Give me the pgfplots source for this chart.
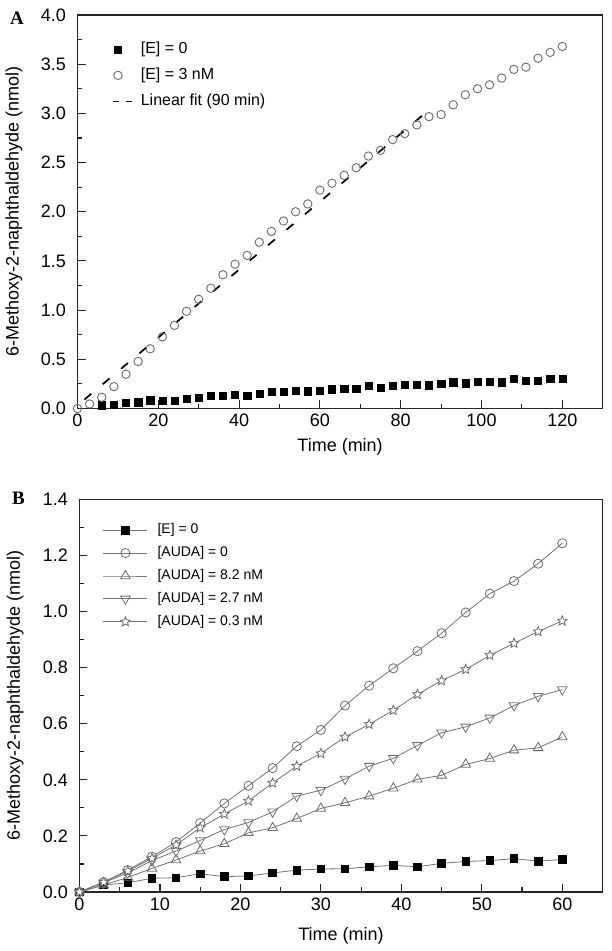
\documentclass[border=0pt]{standalone}
\usepackage{fontspec}
\setmainfont{Liberation Sans}
\newfontfamily\panelfont{Liberation Serif}
\usepackage{pgfplots}
\pgfplotsset{compat=1.18}

\pgfdeclareplotmark{ostar}{%
  \pgfpathmoveto{\pgfpointpolar{90}{\pgfplotmarksize}}%
  \pgfpathlineto{\pgfpointpolar{126}{0.45\pgfplotmarksize}}%
  \pgfpathlineto{\pgfpointpolar{162}{\pgfplotmarksize}}%
  \pgfpathlineto{\pgfpointpolar{198}{0.45\pgfplotmarksize}}%
  \pgfpathlineto{\pgfpointpolar{234}{\pgfplotmarksize}}%
  \pgfpathlineto{\pgfpointpolar{270}{0.45\pgfplotmarksize}}%
  \pgfpathlineto{\pgfpointpolar{306}{\pgfplotmarksize}}%
  \pgfpathlineto{\pgfpointpolar{342}{0.45\pgfplotmarksize}}%
  \pgfpathlineto{\pgfpointpolar{18}{\pgfplotmarksize}}%
  \pgfpathlineto{\pgfpointpolar{54}{0.45\pgfplotmarksize}}%
  \pgfpathclose
  \pgfusepathqfillstroke
}

\pgfplotstableread{
x y
0 0
3 0.046
6 0.114
9 0.222
12 0.349
15 0.478
18 0.607
21 0.727
24 0.845
27 0.988
30 1.110
33 1.222
36 1.359
39 1.467
42 1.556
45 1.690
48 1.800
51 1.906
54 2.000
57 2.080
60 2.220
63 2.290
66 2.370
69 2.447
72 2.566
75 2.624
78 2.733
81 2.794
84 2.883
87 2.967
90 2.988
93 3.087
96 3.189
99 3.250
102 3.290
105 3.359
108 3.447
111 3.470
114 3.560
117 3.620
120 3.680
}\AthreeE

\pgfplotstableread{
x y
6 0.033
9 0.041
12 0.061
15 0.063
18 0.085
21 0.082
24 0.078
27 0.097
30 0.108
33 0.128
36 0.130
39 0.141
42 0.134
45 0.153
48 0.168
51 0.168
54 0.179
57 0.175
60 0.179
63 0.196
66 0.202
69 0.199
72 0.230
75 0.209
78 0.233
81 0.243
84 0.243
87 0.237
90 0.250
93 0.267
96 0.257
99 0.273
102 0.273
105 0.267
108 0.301
111 0.284
114 0.284
117 0.301
120 0.301
}\AzeroE

\pgfplotstableread{
x e0 a0 a82 a27 a03
0 0 0 0 0 0
3 0.025 0.035 0.025 0.033 0.035
6 0.033 0.078 0.052 0.068 0.075
9 0.049 0.126 0.084 0.112 0.120
12 0.051 0.178 0.114 0.146 0.168
15 0.065 0.246 0.146 0.184 0.229
18 0.055 0.316 0.172 0.223 0.278
21 0.057 0.379 0.211 0.248 0.325
24 0.068 0.442 0.229 0.286 0.389
27 0.078 0.520 0.262 0.342 0.449
30 0.082 0.578 0.298 0.363 0.494
33 0.083 0.665 0.318 0.403 0.553
36 0.090 0.736 0.342 0.449 0.598
39 0.095 0.798 0.370 0.477 0.648
42 0.090 0.859 0.402 0.523 0.705
45 0.102 0.923 0.416 0.568 0.754
48 0.109 0.997 0.455 0.589 0.794
51 0.112 1.064 0.476 0.621 0.844
54 0.119 1.109 0.506 0.665 0.887
57 0.110 1.171 0.514 0.698 0.929
60 0.116 1.244 0.553 0.722 0.967
}\Bdata

\definecolor{framec}{gray}{0.15}
\definecolor{markc}{gray}{0.42}
\definecolor{linec}{gray}{0.45}

\pgfplotsset{
  myaxis/.style={
    scale only axis,
    axis line style={line width=1.3bp, framec},
    every tick/.style={line width=1.1bp, framec},
    major tick length=8bp, minor tick length=4.5bp,
    tick align=inside,
    xtick pos=left, ytick pos=left,
    minor x tick num=1, minor y tick num=1,
    tick label style={font=\fontsize{18bp}{21bp}\selectfont},
    /pgf/number format/assume math mode=true,
    yticklabel style={xshift=-8bp, /pgf/number format/fixed, /pgf/number format/fixed zerofill, /pgf/number format/precision=1},
    xticklabel style={yshift=-2bp},
    ylabel={6-Methoxy-2-naphthaldehyde (nmol)},
    xlabel={Time (min)},
    legend cell align=left,
  },
  dashlegend/.style={legend image code/.code={\path[draw=none,fill=none] (0bp,-5bp) rectangle (23.5bp,5bp);
    \draw[##1, dash pattern=on 6bp off 7bp] (4.5bp,0bp) -- (23.5bp,0bp);}},
  marklegendA/.style={legend image code/.code={\path[draw=none,fill=none] (0bp,-5bp) rectangle (23.5bp,5bp);
    \draw[mark repeat=2,mark phase=2,##1] plot coordinates {(0bp,0bp)(9.5bp,0bp)(19bp,0bp)};}},
  marklegendB/.style={legend image code/.code={\path[draw=none,fill=none] (0bp,-5bp) rectangle (44bp,5bp);
    \draw[mark repeat=2,mark phase=2,##1] plot coordinates {(0bp,0bp)(22bp,0bp)(44bp,0bp)};}},
}

\begin{document}
\begin{tikzpicture}
\path[use as bounding box] (0bp,0bp) rectangle (612bp,951bp);

% Panel A
\begin{axis}[myaxis,
  at={(77.5bp,542.5bp)}, anchor=south west,
  width=525.2bp, height=393.5bp,
  xmin=0, xmax=130, ymin=0, ymax=4,
  xtick={0,20,...,120}, ytick={0,0.5,...,4},
  every axis y label/.style={at={(axis description cs:-0.121,0.5)}, rotate=90, anchor=center, font=\fontsize{18bp}{21bp}\selectfont},
  every axis x label/.style={at={(axis description cs:0.5,-0.097)}, anchor=center, font=\fontsize{18bp}{21bp}\selectfont},
  legend style={at={(axis description cs:0.059,0.933)}, anchor=north west,
    draw=none, fill=none, inner sep=0pt, outer sep=0pt,
    font=\fontsize{16bp}{19bp}\selectfont,
    row sep=10bp, column sep=8bp,
    nodes={inner sep=0pt, text height=12.5bp, text depth=3.5bp}},
  marklegendA,
]
\addplot[only marks, mark=square*, mark size=3.6bp, black] table[x=x,y=y] {\AzeroE};
\addlegendentry{[E] = 0}
\addplot[only marks, mark=o, mark size=4.2bp, markc, line width=0.9bp] table[x=x,y=y] {\AthreeE};
\addlegendentry{[E] = 3 nM}
\addplot[black, line width=1.7bp, dash pattern=on 9bp off 15bp, dashlegend]
  coordinates {(1.7,0.09) (86,3.0)};
\addlegendentry{Linear fit (90 min)}
\end{axis}

% Panel B
\begin{axis}[myaxis,
  at={(79.5bp,59bp)}, anchor=south west,
  width=523bp, height=392.5bp,
  xmin=0, xmax=65, ymin=0, ymax=1.4,
  xtick={0,10,...,60}, ytick={0,0.2,...,1.4},
  every axis y label/.style={at={(axis description cs:-0.123,0.5)}, rotate=90, anchor=center, font=\fontsize{18bp}{21bp}\selectfont},
  every axis x label/.style={at={(axis description cs:0.5,-0.112)}, anchor=center, font=\fontsize{18bp}{21bp}\selectfont},
  legend style={at={(axis description cs:0.045,0.939)}, anchor=north west,
    draw=none, fill=none, inner sep=0pt, outer sep=0pt,
    font=\fontsize{14bp}{17bp}\selectfont,
    row sep=9.4bp, column sep=9.7bp,
    nodes={inner sep=0pt, text height=10.5bp, text depth=3bp}},
  marklegendB,
  every axis plot/.append style={linec, line width=0.8bp, mark options={solid, draw=markc, fill=white, line width=0.8bp}},
]
\addplot[mark=square*, mark size=3.8bp, mark options={draw=black, fill=black}] table[x=x,y=e0] {\Bdata};
\addlegendentry{[E] = 0}
\addplot[mark=o, mark size=4.6bp] table[x=x,y=a0] {\Bdata};
\addlegendentry{[AUDA] = 0}
\addplot[mark=triangle, mark size=5.5bp] table[x=x,y=a82] {\Bdata};
\addlegendentry{[AUDA] = 8.2 nM}
\addplot[mark=triangle, mark size=5.5bp, mark options={rotate=180}] table[x=x,y=a27] {\Bdata};
\addlegendentry{[AUDA] = 2.7 nM}
\addplot[mark=ostar, mark size=5bp] table[x=x,y=a03] {\Bdata};
\addlegendentry{[AUDA] = 0.3 nM}
\end{axis}

\node[font=\panelfont\bfseries\fontsize{19bp}{22bp}\selectfont] at (17bp,933bp) {A};
\node[font=\panelfont\bfseries\fontsize{19bp}{22bp}\selectfont] at (18.5bp,452.5bp) {B};
\end{tikzpicture}
\end{document}
